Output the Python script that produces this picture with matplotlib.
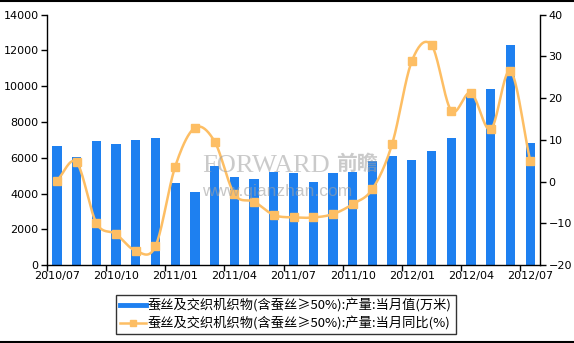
import numpy as np
import matplotlib
matplotlib.use('Agg')
import matplotlib.pyplot as plt
from matplotlib.lines import Line2D

plt.rcParams['font.family'] = ['DejaVu Sans']

# ---------------------------------------------------------------------------
# Datos: producción mensual de tejidos de seda (2010/07 - 2012/07)
# ---------------------------------------------------------------------------
months = ["2010/07", "2010/08", "2010/09", "2010/10", "2010/11", "2010/12",
          "2011/01", "2011/02", "2011/03", "2011/04", "2011/05", "2011/06",
          "2011/07", "2011/08", "2011/09", "2011/10", "2011/11", "2011/12",
          "2012/01", "2012/02", "2012/03", "2012/04", "2012/05", "2012/06",
          "2012/07"]
output_wm = [6680, 6060, 6950, 6780, 7000, 7130,
             4610, 4100, 5560, 4950, 4820, 5190,
             5120, 4630, 5170, 5190, 5820, 6120,
             5880, 6350, 7130, 9450, 9850, 12330,
             6850]
yoy_pct = [0.2, 4.6, -9.9, -12.6, -16.6, -15.5,
           3.6, 12.9, 9.6, -3.0, -4.8, -8.0,
           -8.6, -8.6, -7.8, -5.4, -1.8, 9.0,
           28.9, 32.7, 17.0, 21.3, 12.5, 26.5,
           5.0]
label_every = 3

bar_label = "蚕丝及交织机织物(含蚕丝≥50%):产量:当月值(万米)"
line_label = "蚕丝及交织机织物(含蚕丝≥50%):产量:当月同比(%)"

BLUE = "#1E80F0"
ORANGE = "#FDBE64"
CJK = ['Noto Sans CJK SC', 'DejaVu Sans']


def smooth_curve(x, y, steps=20):
    """Curva Catmull-Rom que pasa por todos los puntos (solo para dibujar)."""
    x = np.asarray(x, float)
    y = np.asarray(y, float)
    px = np.concatenate([[2 * x[0] - x[1]], x, [2 * x[-1] - x[-2]]])
    py = np.concatenate([[2 * y[0] - y[1]], y, [2 * y[-1] - y[-2]]])
    t = np.linspace(0, 1, steps, endpoint=False)[:, None]
    xs, ys = [], []
    for i in range(1, len(px) - 2):
        for p, out in ((px, xs), (py, ys)):
            p0, p1, p2, p3 = p[i - 1], p[i], p[i + 1], p[i + 2]
            seg = 0.5 * ((2 * p1) + (-p0 + p2) * t
                         + (2 * p0 - 5 * p1 + 4 * p2 - p3) * t ** 2
                         + (-p0 + 3 * p1 - 3 * p2 + p3) * t ** 3)
            out.append(seg.ravel())
    xs.append([x[-1]])
    ys.append([y[-1]])
    return np.concatenate(xs), np.concatenate(ys)


fig = plt.figure(figsize=(5.74, 3.43), dpi=100)
ax = fig.add_axes([0.0819, 0.2274, 0.8589, 0.7296])
ax2 = ax.twinx()

x = np.arange(len(months))
ax.bar(x, output_wm, width=0.47, color=BLUE, zorder=2)

sx, sy = smooth_curve(x, yoy_pct)
ax2.plot(sx, sy, color=ORANGE, lw=1.8, zorder=3)
ax2.plot(x, yoy_pct, ls='none', marker='s', ms=5.5, color=ORANGE, zorder=4)

# ejes
ax.set_xlim(-0.5, len(months) - 0.5)
ax.set_ylim(0, 14000)
ax.set_yticks(range(0, 14001, 2000))
ax2.set_ylim(-20, 40)
ax2.set_yticks(range(-20, 41, 10))

ax.set_xticks(x[::label_every])
ax.set_xticklabels(months[::label_every])
ax.set_xticks(x[::label_every] - 0.5, minor=True)
ax.tick_params(axis='x', which='major', length=0, pad=4, labelsize=8)
ax.tick_params(axis='x', which='minor', length=4, width=1, direction='out')
ax.tick_params(axis='y', length=4, width=1, labelsize=8, pad=2)
ax2.tick_params(axis='y', length=4, width=1, labelsize=8, pad=2)

for a in (ax, ax2):
    a.spines['top'].set_visible(False)
    for s in ('left', 'right', 'bottom'):
        a.spines[s].set_linewidth(1)
ax.spines['right'].set_visible(False)
ax2.spines['left'].set_visible(False)
ax2.spines['bottom'].set_visible(False)

# marca de agua
fig.text(0.352, 0.5, "FORWARD", family='Liberation Serif', fontsize=19,
         color='#a0a0a0', alpha=0.55, zorder=10)
fig.text(0.585, 0.505, "前瞻", family=CJK, fontsize=15, fontweight='bold',
         color='#a0a0a0', alpha=0.55, zorder=10)
fig.text(0.352, 0.43, "www.qianzhan.com", family='Liberation Sans',
         fontsize=12.5, color='#a0a0a0', alpha=0.6, zorder=10)

# leyenda
handles = [Line2D([], [], color=BLUE, lw=3.5),
           Line2D([], [], color=ORANGE, lw=1.8, marker='s', ms=5)]
leg = fig.legend(handles, [bar_label, line_label], loc='center',
                 bbox_to_anchor=(0.498, 0.083), frameon=True, fancybox=False,
                 edgecolor='black', handlelength=2.0, handletextpad=0.1,
                 borderpad=0.3, labelspacing=0.25, borderaxespad=0,
                 prop={'family': CJK, 'size': 9.5})
leg.get_frame().set_linewidth(1)

# bordes superior e inferior de la figura
fig.add_artist(Line2D([0, 1], [0.998, 0.998], color='black', lw=1.5,
                      transform=fig.transFigure))
fig.add_artist(Line2D([0, 1], [0.004, 0.004], color='black', lw=1.5,
                      transform=fig.transFigure))

fig.savefig("out.png", dpi=100)
